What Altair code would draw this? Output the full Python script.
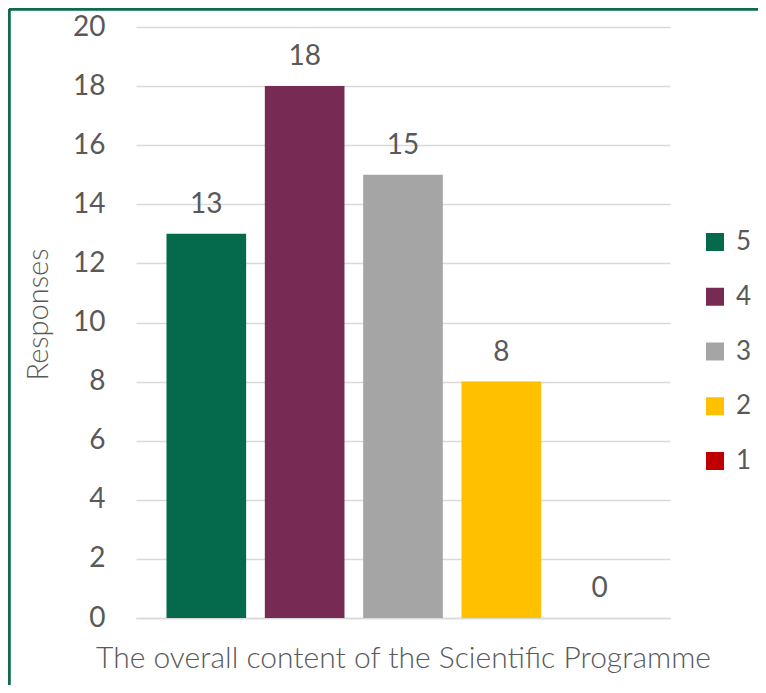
import altair as alt
import pandas as pd

ratings = ["5", "4", "3", "2", "1"]
responses = [13, 18, 15, 8, 0]
colors = ["#046A4B", "#772A53", "#A5A5A5", "#FFC000", "#C00000"]
category = "The overall content of the Scientific Programme"
y_ticks = [0, 2, 4, 6, 8, 10, 12, 14, 16, 18, 20]

df = pd.DataFrame({"rating": ratings, "responses": responses})

FONT = "Lato"
GREY = "#595959"

x_enc = alt.X("rating:N", sort=ratings,
              scale=alt.Scale(domain=ratings, paddingInner=0.19, paddingOuter=0.31),
              axis=alt.Axis(title=category, labels=False, ticks=False, domain=True,
                            domainColor="#D9D9D9", domainWidth=1.5,
                            titleFont=FONT, titleFontSize=30, titleFontWeight=300,
                            titleColor=GREY, titlePadding=25))
y_enc = alt.Y("responses:Q",
              scale=alt.Scale(domain=[0, 20], nice=False),
              axis=alt.Axis(title="Responses", values=y_ticks, grid=True, gridColor="#D9D9D9",
                            gridWidth=1.5, domain=False, ticks=False,
                            labelFont=FONT, labelFontSize=28, labelColor=GREY, labelPadding=31,
                            titleFont=FONT, titleFontSize=29, titleFontWeight=300,
                            titleColor=GREY, titlePadding=19, titleY=287))

bars = alt.Chart(df).mark_bar().encode(
    x=x_enc,
    y=y_enc,
    color=alt.Color("rating:N", sort=ratings,
                    scale=alt.Scale(domain=ratings, range=colors),
                    legend=alt.Legend(title=None, orient="none", legendX=566, legendY=202,
                                      symbolType="square", symbolSize=324, symbolStrokeWidth=0,
                                      symbolOpacity=1,
                                      labelFont=FONT, labelFontSize=26, labelColor=GREY,
                                      labelOffset=8, rowPadding=28.75, padding=0)),
)

labels = alt.Chart(df).mark_text(font=FONT, fontSize=28, color=GREY, baseline="middle", dy=-29).encode(
    x=alt.X("rating:N", sort=ratings),
    y="responses:Q",
    text="responses:Q",
)

border_top = alt.Chart(df).mark_rule(color="#0F6B50", strokeWidth=2.5).encode(
    x=alt.value(-127), x2=alt.value(622), y=alt.value(-18))
border_left = alt.Chart(df).mark_rule(color="#0F6B50", strokeWidth=2.5).encode(
    x=alt.value(-127), y=alt.value(-18), y2=alt.value(700))

chart = alt.layer(bars, labels, border_top, border_left).properties(
    width=534, height=591,
    autosize=alt.AutoSizeParams(type="none"),
    padding={"left": 128, "top": 19, "right": 88, "bottom": 67},
).configure_view(stroke=None)

chart.save("out.html", embed_options={"renderer": "svg", "actions": False})
